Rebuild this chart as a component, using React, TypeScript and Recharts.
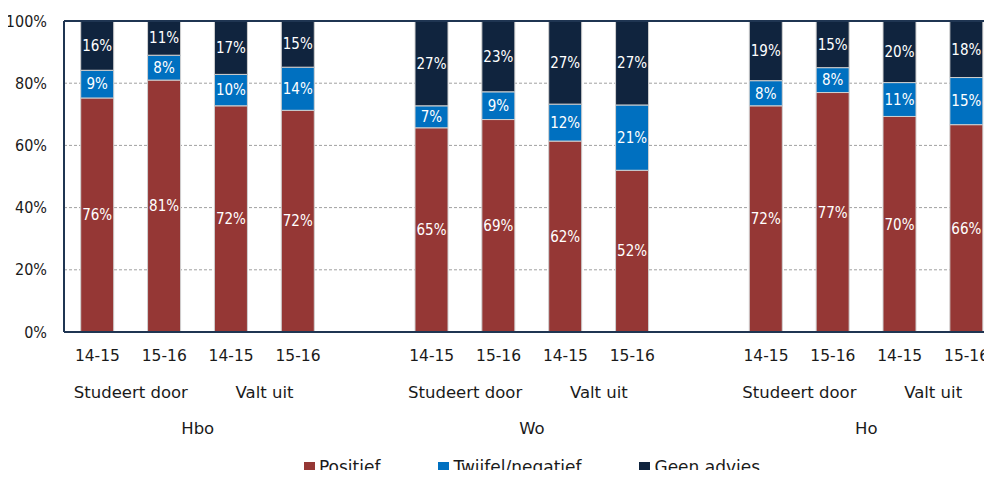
import React from 'react';
import { BarChart, Bar, XAxis, YAxis, CartesianGrid, LabelList, Legend, ReferenceLine } from 'recharts';

const ids = ['h1', 'h2', 'h3', 'h4', 'gap1', 'w1', 'w2', 'w3', 'w4', 'gap2', 'o1', 'o2', 'o3', 'o4'];
const years = ['14-15', '15-16', '14-15', '15-16', '', '14-15', '15-16', '14-15', '15-16', '', '14-15', '15-16', '14-15', '15-16'];
const subLabels = ['Studeert door', '', 'Valt uit', '', '', 'Studeert door', '', 'Valt uit', '', '', 'Studeert door', '', 'Valt uit', ''];
const groupLabels = ['Hbo', '', '', '', '', 'Wo', '', '', '', '', 'Ho', '', '', ''];
const positief = [76, 81, 72, 72, null, 65, 69, 62, 52, null, 72, 77, 70, 66];
const twijfel = [9, 8, 10, 14, null, 7, 9, 12, 21, null, 8, 8, 11, 15];
const geenAdvies = [16, 11, 17, 15, null, 27, 23, 27, 27, null, 19, 15, 20, 18];
const yTicks = [0, 0.2, 0.4, 0.6, 0.8, 1];
const seriesNames = ['Positief', 'Twijfel/negatief', 'Geen advies'];

const RED = '#953735';
const BLUE = '#0070C0';
const NAVY = '#10243E';
const FRAME = '#1F3552';
const TEXT = '#1a1a1a';
const COLORS = [RED, BLUE, NAVY];
const COND = "'DejaVu Sans Condensed', 'DejaVu Sans'";
const REG = "'DejaVu Sans'";

const data = ids.map((id, i) => ({
  id,
  pos: positief[i],
  twi: twijfel[i],
  geen: geenAdvies[i],
}));

const pct = (v: any) => (v == null || v === '' ? '' : `${v}%`);

// tick that draws a label shifted by a fraction of the category step
const OffsetTick = (props: any) => {
  const { x, y, payload, width, visibleTicksCount, labels, shift } = props;
  const label = labels[payload.index];
  if (!label) return <g />;
  const step = width && visibleTicksCount ? width / visibleTicksCount : 0;
  return (
    <text x={x + step * shift} y={y} dy="0.71em" textAnchor="middle" fontSize={16.5} fill={TEXT} fontFamily={REG}>
      {label}
    </text>
  );
};

const LegendContent = () => (
  <div
    style={{
      display: 'flex',
      justifyContent: 'center',
      alignItems: 'center',
      gap: 58,
      height: 20,
      fontSize: 17,
      color: TEXT,
      fontFamily: REG,
    }}
  >
    {seriesNames.map((n, i) => (
      <div key={n} style={{ display: 'flex', alignItems: 'center', gap: 4 }}>
        <span style={{ width: 11, height: 11, background: COLORS[i], display: 'inline-block' }} />
        <span>{n}</span>
      </div>
    ))}
  </div>
);

export default function App() {
  return (
    <div
      style={{
        margin: -8,
        width: 992,
        height: 478,
        overflow: 'hidden',
        position: 'relative',
        fontFamily: REG,
        background: '#fff',
      }}
    >
      <BarChart
        width={1000}
        height={478}
        data={data}
        stackOffset="expand"
        barCategoryGap="25%"
        margin={{ top: 21, right: 0, left: 0, bottom: 18 }}
      >
        <CartesianGrid vertical={false} stroke="#a0a0a0" strokeDasharray="3 2" />
        <XAxis
          dataKey="id"
          tickFormatter={(_v: any, i: number) => years[i]}
          interval={0}
          tick={{ fontSize: 15.5, fill: TEXT, fontFamily: REG }}
          tickLine={false}
          tickSize={0}
          tickMargin={18}
          height={36}
          axisLine={{ stroke: FRAME, strokeWidth: 2 }}
        />
        <XAxis
          xAxisId="b"
          dataKey="id"
          interval={0}
          tick={<OffsetTick labels={groupLabels} shift={1.5} />}
          axisLine={false}
          tickLine={false}
          tickSize={0}
          tickMargin={18}
          height={36}
        />
        <XAxis
          xAxisId="a"
          dataKey="id"
          interval={0}
          tick={<OffsetTick labels={subLabels} shift={0.5} />}
          axisLine={false}
          tickLine={false}
          tickSize={0}
          tickMargin={18}
          height={36}
        />
        <YAxis
          width={64}
          domain={[0, 1]}
          ticks={yTicks}
          tickFormatter={(v: number) => `${Math.round(v * 100)}%`}
          tick={{ fontSize: 16, fill: TEXT, fontFamily: COND }}
          tickLine={false}
          tickSize={0}
          tickMargin={17}
          axisLine={{ stroke: FRAME, strokeWidth: 2 }}
        />
        <ReferenceLine y={1} stroke={FRAME} strokeWidth={2} />
        <Bar dataKey="pos" name={seriesNames[0]} stackId="a" fill={RED} stroke="#d0d0d0" strokeWidth={1} isAnimationActive={false}>
          <LabelList dataKey="pos" position="center" fill="#fff" fontSize={15} fontFamily={COND} formatter={pct} />
        </Bar>
        <Bar dataKey="twi" name={seriesNames[1]} stackId="a" fill={BLUE} stroke="#d0d0d0" strokeWidth={1} isAnimationActive={false}>
          <LabelList dataKey="twi" position="center" fill="#fff" fontSize={15} fontFamily={COND} formatter={pct} />
        </Bar>
        <Bar dataKey="geen" name={seriesNames[2]} stackId="a" fill={NAVY} stroke="#d0d0d0" strokeWidth={1} isAnimationActive={false}>
          <LabelList dataKey="geen" position="center" fill="#fff" fontSize={15} fontFamily={COND} formatter={pct} />
        </Bar>
        <Legend
          content={<LegendContent />}
          verticalAlign="bottom"
          wrapperStyle={{ top: 457, bottom: 'auto', left: 64, width: 936, height: 20 }}
        />
      </BarChart>
    </div>
  );
}
